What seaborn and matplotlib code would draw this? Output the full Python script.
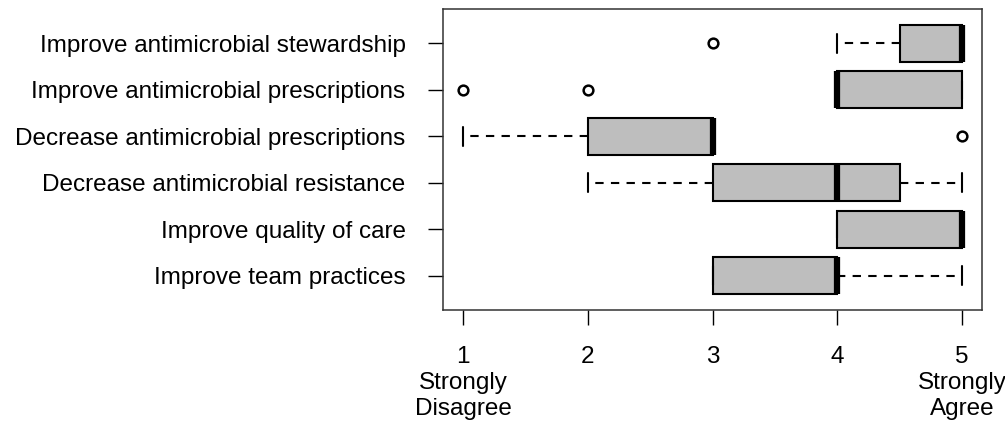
import pandas as pd
import matplotlib
matplotlib.use('Agg')
import matplotlib.pyplot as plt
import seaborn as sns

# likert answers per statement (1 = strongly disagree, 5 = strongly agree)
items = [
    'Improve antimicrobial stewardship',
    'Improve antimicrobial prescriptions',
    'Decrease antimicrobial prescriptions',
    'Decrease antimicrobial resistance',
    'Improve quality of care',
    'Improve team practices',
]
stewardship = [3, 4, 4, 4, 5, 5, 5, 5, 5, 5, 5, 5, 5, 5, 5]
improve_presc = [1, 2, 4, 4, 4, 4, 4, 4, 5, 5, 5, 5, 5, 5, 5]
decrease_presc = [1, 2, 2, 2, 2, 3, 3, 3, 3, 3, 3, 3, 3, 3, 5]
resistance = [2, 3, 3, 3, 3, 4, 4, 4, 4, 4, 4, 5, 5, 5, 5]
quality = [4, 4, 4, 4, 4, 5, 5, 5, 5, 5, 5, 5, 5, 5, 5]
team = [3, 3, 3, 3, 3, 4, 4, 4, 4, 4, 4, 4, 4, 4, 5]

scores = [stewardship, improve_presc, decrease_presc, resistance, quality, team]
xticks = [1, 2, 3, 4, 5]
xlabels = ['1\nStrongly\nDisagree', '2', '3', '4', '5\nStrongly\nAgree']

rows = []
for name, vals in zip(items, scores):
    for v in vals:
        rows.append({'item': name, 'score': v})
df = pd.DataFrame(rows)

sns.set_style('ticks')
plt.rcParams['font.family'] = ['Liberation Sans', 'DejaVu Sans']

fig = plt.figure(figsize=(10.05, 4.29), dpi=100)
ax = fig.add_axes([443 / 1005, 1 - 310 / 429, (982 - 443) / 1005, (310 - 9) / 429])

sns.boxplot(
    data=df, x='score', y='item', order=items, orient='h',
    color='#bebebe', saturation=1, linecolor='black', linewidth=1.5,
    width=0.8, whis=1.5, fliersize=7, ax=ax,
    medianprops=dict(linewidth=4.5, solid_capstyle='butt'),
    whiskerprops=dict(linestyle=(0, (4, 3.5))),
    flierprops=dict(marker='o', markerfacecolor='none',
                    markeredgecolor='black', markeredgewidth=1.8),
)

ax.set_xlim(0.84, 5.16)
ax.set_ylim(len(items) - 1 + 0.74, -0.74)
ax.set_xticks(xticks)
ax.set_xticklabels(xlabels, fontsize=17.5, linespacing=1.22)
ax.tick_params(axis='x', length=11, width=1, pad=15, colors='black')
ax.tick_params(axis='y', length=11, width=1, pad=16, labelsize=17.5, colors='black')
ax.set_xlabel('')
ax.set_ylabel('')
for s in ax.spines.values():
    s.set_visible(True)
    s.set_color('#333333')
    s.set_linewidth(1.1)

fig.savefig('out.png', dpi=100)
